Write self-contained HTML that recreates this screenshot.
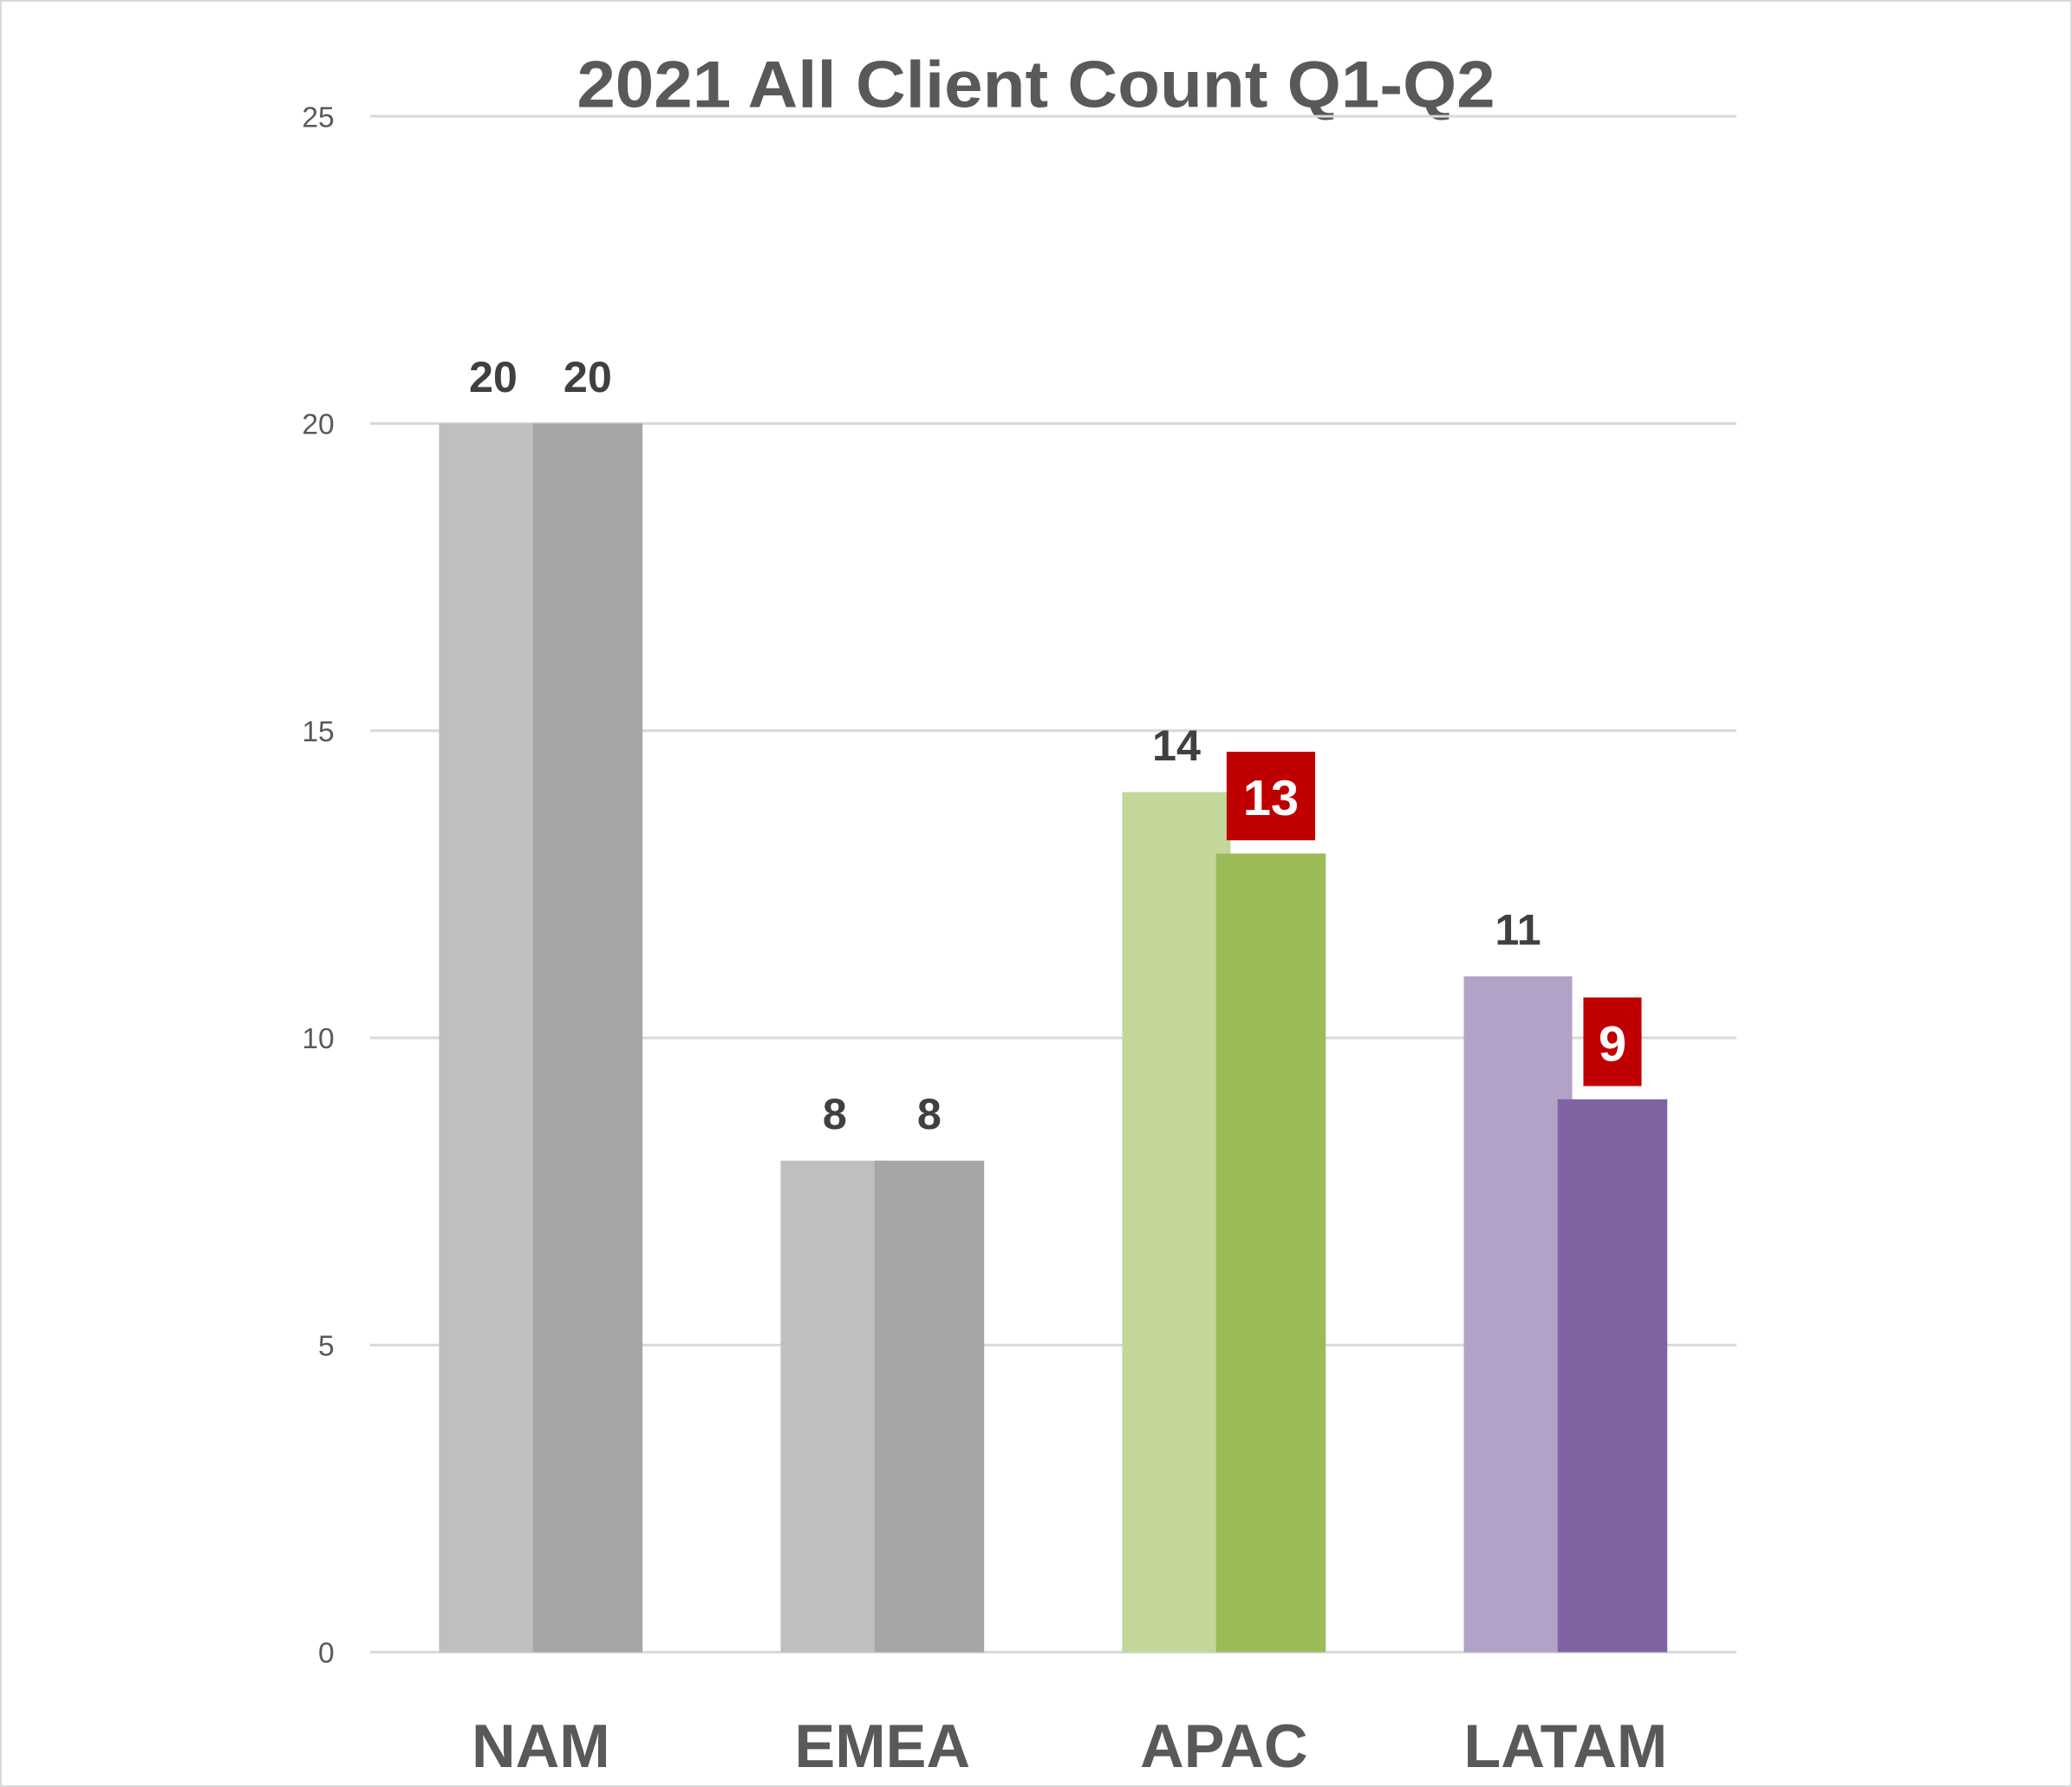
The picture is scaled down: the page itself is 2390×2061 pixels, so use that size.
<!DOCTYPE html>
<html><head><meta charset="utf-8"><style>
html,body{margin:0;padding:0;background:#fff;}
svg{display:block;}
text{font-family:"Liberation Sans",sans-serif;}
</style></head><body>
<svg id="chart" width="2390" height="2061" viewBox="0 0 1568 1352" preserveAspectRatio="none" xmlns="http://www.w3.org/2000/svg">
<rect x="0.5" y="0.5" width="1567" height="1351" fill="#fff" stroke="#d9d9d9" stroke-width="1.5"/>
<text x="784" y="81" text-anchor="middle" font-size="50" font-weight="bold" fill="#595959" textLength="695" lengthAdjust="spacingAndGlyphs">2021 All Client Count Q1-Q2</text>
<g id="grid"></g><g id="bars"></g><g id="labels"></g>
</svg>
<script>
const categories = ["NAM","EMEA","APAC","LATAM"];
const q1Values = [20,8,14,11];
const q2Values = [20,8,13,9];
const yTicks = [0,5,10,15,20,25];
const highlightQ2 = [false,false,true,true];
const q1Colors = ["#BFBFBF","#BFBFBF","#C4D79B","#B2A2C7"];
const q2Colors = ["#A6A6A6","#A6A6A6","#9BBB59","#8064A2"];

const NS="http://www.w3.org/2000/svg";
const x0=280,x1=1314,yBase=1250,yTop=88,yMax=25;
const y=v=>yBase-(v/yMax)*(yBase-yTop);
const bw=(x1-x0)/categories.length;
const cx=i=>x0+bw*(i+0.5);
function mk(tag,attrs,parent){const e=document.createElementNS(NS,tag);for(const k in attrs)e.setAttribute(k,attrs[k]);parent.appendChild(e);return e;}
const grid=document.getElementById('grid'),bars=document.getElementById('bars'),labels=document.getElementById('labels');
yTicks.forEach(t=>{
  const l=mk('line',{x1:x0,x2:x1,y1:y(t),y2:y(t),stroke:'#d9d9d9','stroke-width':2},grid);
  
  
  const tx=mk('text',{x:253,y:y(t)+8,'text-anchor':'end','font-size':22,fill:'#595959'},grid);
  tx.textContent=t;
  
  
});
categories.forEach((c,i)=>{
  const c0=cx(i);
  const b1=mk('rect',{x:c0-77,y:y(q1Values[i]),width:82,height:yBase-y(q1Values[i]),fill:q1Colors[i]},bars);
  
  
  const b2=mk('rect',{x:c0-6,y:y(q2Values[i]),width:83,height:yBase-y(q2Values[i]),fill:q2Colors[i]},bars);
  
  
  const l1=mk('text',{x:c0-36,y:y(q1Values[i])-24,'text-anchor':'middle','font-size':33,'font-weight':'bold',fill:'#404040'},labels);
  l1.textContent=q1Values[i];
  
  
  const q2x=c0+35.5;
  if(highlightQ2[i]){
    const s=String(q2Values[i]);
    const w=s.length>1?67:44;
    const bx=mk('rect',{x:q2x-w/2,y:y(q2Values[i])-77,width:w,height:67,fill:'#C00000'},labels);
    
    
    const l2=mk('text',{x:q2x,y:y(q2Values[i])-29,'text-anchor':'middle','font-size':38,'font-weight':'bold',fill:'#fff'},labels);
    l2.textContent=s;
    
    
  } else {
    const l2=mk('text',{x:q2x,y:y(q2Values[i])-24,'text-anchor':'middle','font-size':33,'font-weight':'bold',fill:'#404040'},labels);
    l2.textContent=q2Values[i];
    
    
  }
  const cl=mk('text',{x:c0,y:1337,'text-anchor':'middle','font-size':46,'font-weight':'bold',fill:'#595959'},labels);
  cl.textContent=c;
  
  
});
</script>
</body></html>
